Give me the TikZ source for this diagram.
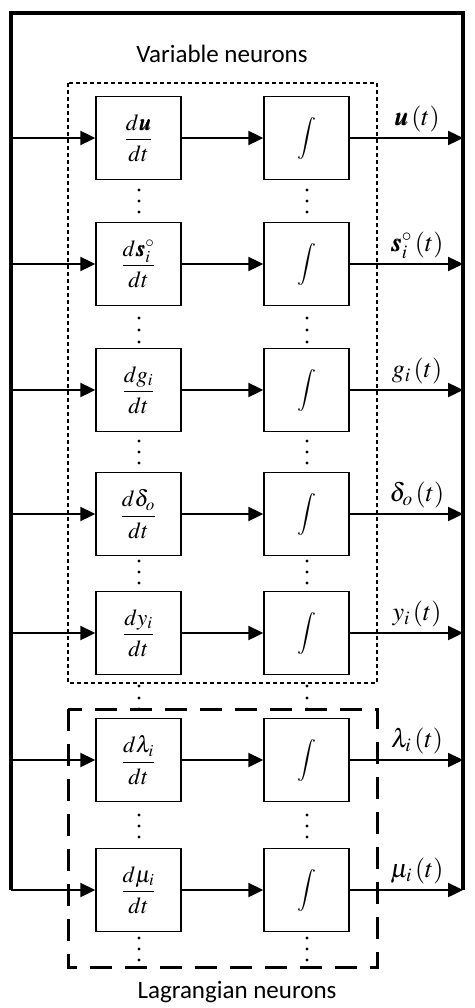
\documentclass[tikz,border=0pt]{standalone}
\usepackage{amsmath}
\usepackage{mathptmx}
\usepackage{bm}
\usepackage{graphicx}
\usepackage{fontspec}
\newfontfamily\labelfont{Carlito}
\usetikzlibrary{arrows.meta}
\tikzset{
  blk/.style={draw, line width=1.5pt, minimum width=85pt, minimum height=83pt, inner sep=0pt, font=\fontsize{20}{24}\selectfont},
  arr/.style={line width=2.4pt, -{Triangle[length=15pt,width=14pt]}},
  bus/.style={line width=3.2pt, line join=miter},
  dotbox/.style={line width=2.7pt, dash pattern=on 4pt off 3pt},
  dashbox/.style={line width=3pt, dash pattern=on 22pt off 13pt},
  outlbl/.style={font=\fontsize{20}{24}\selectfont, inner sep=0pt},
  grplbl/.style={font=\labelfont\fontsize{25}{29}\selectfont, inner sep=0pt}
}
\begin{document}
\begin{tikzpicture}[x=1pt,y=-1pt]
\useasboundingbox (0,0) rectangle (474,1008);
% group boxes
\draw[dotbox] (68,83) rectangle (377,683);
\draw[dashbox] (68,709) rectangle (377,967);
\node[grplbl] (vn) at (222,54) {Variable neurons};
\node[grplbl] (ln) at (237,992) {Lagrangian neurons};
% bus
\coordinate (TL) at (11,13);
\coordinate (TR) at (463,13);
\foreach \k/\y in {1/138,2/264,3/390,4/514,5/633,6/760,7/890}{
  \coordinate (L\k) at (11,\y);
  \coordinate (R\k) at (463,\y);
}
\draw[bus] (R7) -- (TR) -- (TL) -- (L7);
% rows
\foreach \k/\y/\num/\out in {
  1/138/{d\bm{u}}/{\bm{u}\left(t\right)},
  2/264/{d\bm{s}_i^{\circ}}/{\bm{s}_i^{\circ}\left(t\right)},
  3/390/{dg_i}/{g_i\left(t\right)},
  4/514/{d\delta_o}/{\delta_o\left(t\right)},
  5/633/{dy_i}/{y_i\left(t\right)},
  6/760/{d\lambda_i}/{\lambda_i\left(t\right)},
  7/890/{d\mu_i}/{\mu_i\left(t\right)}}{
  \node[blk] (d\k) at (138.5,\y) {\scalebox{1.15}{$\dfrac{\num}{dt}$}};
  \node[blk] (i\k) at (306.5,\y) {\scalebox{1.05}{$\displaystyle\int$}};
  \draw[arr] (L\k) -- (d\k.west);
  \draw[arr] (d\k.east) -- (i\k.west);
  \draw[arr] (i\k.east) -- (R\k);
  \node[outlbl] (o\k) at (417,\y-19) {\scalebox{1.3}{$\out$}};
}
% vertical ellipsis dots
\foreach \y in {190,201,212, 318,330,342, 441,452,463, 561,572,583, 686,698,709, 815,826,837, 938,949,960}{
  \fill (139,\y) circle (1.7pt);
  \fill (307,\y) circle (1.7pt);
}
\end{tikzpicture}
\end{document}
